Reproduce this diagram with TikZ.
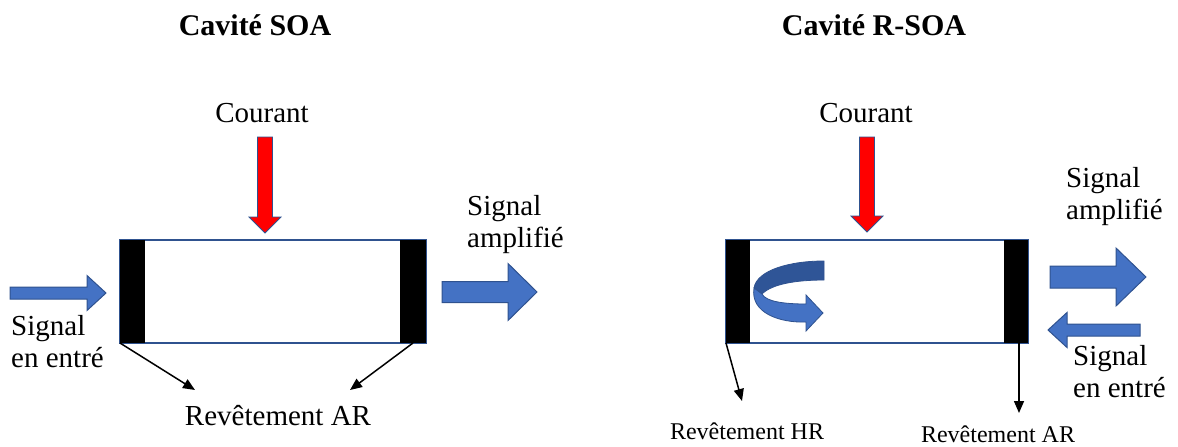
\documentclass[tikz,border=0pt]{standalone}
\usepackage{fontspec}
\setmainfont{Liberation Serif}
\usetikzlibrary{arrows.meta, positioning}
\definecolor{pptblue}{RGB}{68,114,196}
\definecolor{pptline}{RGB}{47,82,143}
\definecolor{backblue}{RGB}{47,85,151}

\begin{document}
\begin{tikzpicture}[x=1pt, y=-1pt,
    cavity/.style={draw=pptline, line width=1.5pt, fill=white, inner sep=0pt, outer sep=0pt, minimum height=103pt},
    coating/.style={fill=black, inner sep=0pt, outer sep=0pt, minimum height=103pt},
    txt/.style={font=\fontsize{29}{32}\selectfont, inner sep=0pt, align=left},
    smalltxt/.style={font=\fontsize{24}{28}\selectfont, inner sep=0pt},
    title/.style={font=\fontsize{30}{34}\selectfont\bfseries, inner sep=0pt},
    bluearrow/.style={fill=pptblue, draw=pptline, line width=1pt},
    redarrow/.style={fill=red, draw=pptline, line width=0.8pt},
    pointer/.style={line width=1.5pt, -{Triangle[length=12pt, width=10pt]}}]
    \useasboundingbox (0,0) rectangle (1178,447);

    % Cavite SOA
    \node[title] (t1) at (255,25) {Cavité SOA};
    \node[txt] (cur1) at (262,113) {Courant};
    \draw[redarrow] (257.5,137) -- (272.5,137) -- (272.5,217) -- (281,217) -- (265,233) -- (249,217) -- (257.5,217) -- cycle;
    \node[cavity, minimum width=306pt] (cav1) at (273,291.5) {};
    \node[coating, minimum width=25pt, anchor=north west] (ar1) at (cav1.north west) {};
    \node[coating, minimum width=26pt, anchor=north east] (ar2) at (cav1.north east) {};
    \draw[bluearrow] (10,287) -- (87,287) -- (87,275.5) -- (106,293) -- (87,310.5) -- (87,299) -- (10,299) -- cycle;
    \draw[bluearrow] (442,281.5) -- (508,281.5) -- (508,263.5) -- (537,292) -- (508,320.5) -- (508,302.5) -- (442,302.5) -- cycle;
    \node[txt, anchor=north west] (in1) at (11,315) {Signal\\en entré};
    \node[txt, anchor=north west] (out1) at (467,195) {Signal\\amplifié};
    \node[txt] (rev1) at (278,416) {Revêtement AR};
    \coordinate (p1) at (195,390);
    \coordinate (p2) at (350,390);
    \draw[pointer] (ar1.south west) -- (p1);
    \draw[pointer] (ar2.south) -- (p2);

    % Cavite R-SOA
    \node[title] (t2) at (874,25) {Cavité R-SOA};
    \node[txt] (cur2) at (866,113) {Courant};
    \draw[redarrow] (859.5,137) -- (874.5,137) -- (874.5,216) -- (883,216) -- (867,232) -- (851,216) -- (859.5,216) -- cycle;
    \node[cavity, minimum width=302pt] (cav2) at (877,291.5) {};
    \node[coating, minimum width=24pt, anchor=north west] (hr) at (cav2.north west) {};
    \node[coating, minimum width=24pt, anchor=north east] (ar3) at (cav2.north east) {};
    % fleche courbe (reflexion)
    \draw[fill=backblue, draw=pptline, line width=0.8pt] (824,261) .. controls (790,261) and (757,270) .. (754,288) -- (762,294) .. controls (772,284) and (796,280) .. (824,280) -- cycle;
    \draw[bluearrow, line width=0.8pt] (754,288) .. controls (750,313) and (780,323) .. (806,322) -- (806,331) -- (823,313) -- (806,295) -- (806,304) .. controls (786,304) and (766,302) .. (762,294) -- cycle;
    \draw[bluearrow] (1050,266) -- (1116,266) -- (1116,248) -- (1146,277) -- (1116,306) -- (1116,288) -- (1050,288) -- cycle;
    \draw[bluearrow] (1140,324) -- (1067,324) -- (1067,312.5) -- (1048,330) -- (1067,347.5) -- (1067,336) -- (1140,336) -- cycle;
    \node[txt, anchor=north west] (out2) at (1066,167) {Signal\\amplifié};
    \node[txt, anchor=north west] (in2) at (1073,345) {Signal\\en entré};
    \node[smalltxt] (rev2) at (747,431) {Revêtement HR};
    \node[smalltxt] (rev3) at (998,434) {Revêtement AR};
    \coordinate (p3) at (742,401);
    \coordinate (p4) at (1019,413);
    \draw[pointer] (hr.south west) -- (p3);
    \draw[pointer] (ar3.south -| p4) -- (p4);
\end{tikzpicture}
\end{document}
